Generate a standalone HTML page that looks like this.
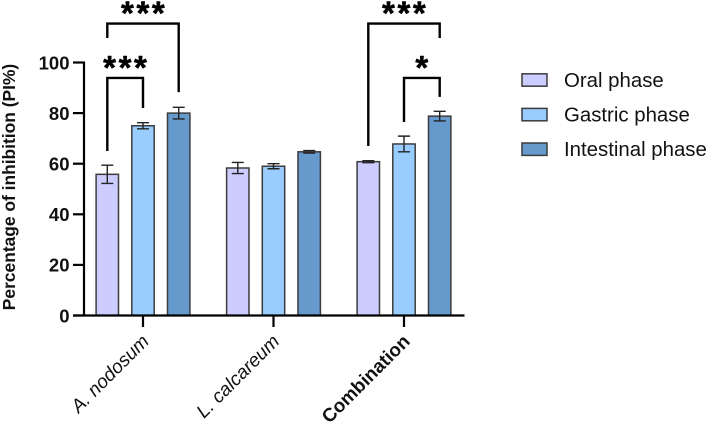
<!DOCTYPE html>
<html><head><meta charset="utf-8"><title>Percentage of inhibition</title>
<style>html,body{margin:0;padding:0;background:#fff;width:708px;height:425px;overflow:hidden}svg{display:block;font-family:"Liberation Sans",sans-serif}</style>
</head><body>
<svg id="chart" xmlns="http://www.w3.org/2000/svg" width="708" height="425" viewBox="0 0 708 425"></svg>
<script>
const categories = ['A. nodosum', 'L. calcareum', 'Combination'];
const seriesNames = ['Oral phase', 'Gastric phase', 'Intestinal phase'];
const oralValues = [55.8, 58.3, 60.8];
const gastricValues = [75, 59, 67.8];
const intestinalValues = [80, 64.7, 78.8];
const oralErrors = [3.6, 2.2, 0.4];
const gastricErrors = [1.2, 1.0, 3.1];
const intestinalErrors = [2.3, 0.5, 1.9];
const yTicks = [0, 20, 40, 60, 80, 100];
const bracketGroups = [0, 0, 2, 2];
const bracketFrom = [0, 0, 0, 1];
const bracketTo = [2, 1, 2, 2];
const bracketTop = [115.4, 93.9, 115.4, 93.9];
const bracketFootLeft = [109.7, 65, 67, 76.5];
const bracketFootRight = [88.3, 82, 109.7, 86.4];
const bracketLabels = ['***', '***', '***', '*'];

const values = [oralValues, gastricValues, intestinalValues];
const errors = [oralErrors, gastricErrors, intestinalErrors];
const fills = ['#ccccff', '#99ccff', '#6699cc'];
const svg = document.getElementById('chart');
const NS = 'http://www.w3.org/2000/svg';
const y = v => 315.5 - v * 2.53;
const groupX = g => 143 + g * 130.5;
const barX = (g, s) => groupX(g) + (s - 1) * 35.7;
const barW = 22.4;
function mk(tag, attrs, parent) {
  const el = document.createElementNS(NS, tag);
  for (const k in attrs) el.setAttribute(k, attrs[k]);
  (parent || svg).appendChild(el);
  return el;
}
// Bars and error bars
categories.forEach((c, g) => {
  seriesNames.forEach((s, i) => {
    const v = values[i][g], e = errors[i][g], x = barX(g, i);
    const bar = mk('rect', {x: x - barW / 2, y: y(v), width: barW, height: y(0) - y(v), fill: fills[i], stroke: '#3c3c3c', 'stroke-width': 1.5});
    
    
    const err = mk('path', {d: `M${x - 6} ${y(v + e)}H${x + 6}M${x} ${y(v + e)}V${y(v - e)}M${x - 6} ${y(v - e)}H${x + 6}`, fill: 'none', stroke: '#222', 'stroke-width': 1.4});
    
    
  });
});
// Y axis
const yAxis = mk('path', {d: `M84 ${y(100) - 1}V${y(0) + 1}`, stroke: '#000', 'stroke-width': 2.2, fill: 'none'});


yTicks.forEach(t => {
  const tick = mk('path', {d: `M73 ${y(t)}H84`, stroke: '#000', 'stroke-width': 2.2});
  
  
  const lab = mk('text', {x: 69.5, y: y(t) + 6.8, 'text-anchor': 'end', 'font-size': 18.5, 'font-weight': 'bold', fill: '#111'});
  lab.textContent = t;
  
  
});
// X axis
const xAxis = mk('path', {d: `M73 ${y(0)}H464.5`, stroke: '#000', 'stroke-width': 2.2, fill: 'none'});


categories.forEach((c, g) => {
  const x = groupX(g);
  const tick = mk('path', {d: `M${x} ${y(0)}V327`, stroke: '#000', 'stroke-width': 2.2});
  
  
  const lab = mk('text', {transform: `translate(${x + 7} 342.5) rotate(-45)`, 'text-anchor': 'end', 'font-size': 18.9, 'font-style': g < 2 ? 'italic' : 'normal', 'font-weight': g < 2 ? 'normal' : 'bold', fill: '#111'});
  lab.textContent = c;
  
  
});
// Y title
const title = mk('text', {transform: 'translate(15 187) rotate(-90)', 'text-anchor': 'middle', 'font-size': 17.4, 'font-weight': 'bold', fill: '#111'});
title.textContent = 'Percentage of inhibition (PI%)';


// Significance brackets
bracketGroups.forEach((g, i) => {
  const x1 = barX(g, bracketFrom[i]), x2 = barX(g, bracketTo[i]), top = y(bracketTop[i]);
  const br = mk('path', {d: `M${x1} ${y(bracketFootLeft[i])}V${top}H${x2}V${y(bracketFootRight[i])}`, fill: 'none', stroke: '#000', 'stroke-width': 2.4});
  
  
  const star = mk('text', {x: (x1 + x2) / 2 + 1.2, y: top + 1, 'text-anchor': 'middle', 'font-size': 33, 'font-weight': 'bold', 'letter-spacing': 2.6, stroke: '#000', 'stroke-width': 0.5, fill: '#000'});
  star.textContent = bracketLabels[i];
  
  
});
// Legend
seriesNames.forEach((s, i) => {
  const sy = 80 + i * 34.6;
  const sw = mk('rect', {x: 522, y: sy - 6.2, width: 25, height: 12.4, fill: fills[i], stroke: '#3c3c3c', 'stroke-width': 1.5});
  
  
  const t = mk('text', {x: 564, y: sy + 7, 'font-size': 20.4, fill: '#111'});
  t.textContent = s;
  
  
});
</script>
</body></html>
